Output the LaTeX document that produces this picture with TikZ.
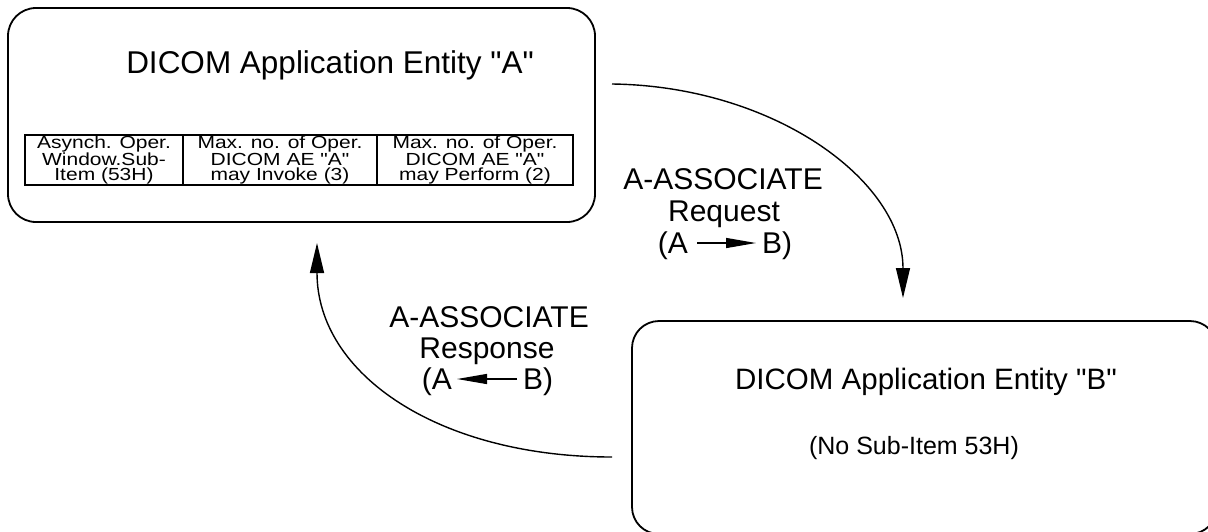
\documentclass[tikz,border=0pt]{standalone}
\usepackage{fontspec}
\newfontfamily\arial{Liberation Sans}
\newfontfamily\arialwide{Liberation Sans}[FakeStretch=1.2]
\usetikzlibrary{arrows.meta,calc}
\begin{document}
\begin{tikzpicture}[x=1pt,y=-1pt,
  entity/.style={draw, line width=1.8pt, rounded corners=28pt, inner sep=0pt},
  cell/.style={draw, line width=1.3pt, inner sep=0pt, minimum height=50pt, align=center, font=\arialwide\fontsize{17.5}{15.6}\selectfont},
  big/.style={font=\arial\fontsize{30}{32}\selectfont, inner sep=0pt, anchor=base},
  title/.style={font=\arial\fontsize{31.5}{34}\selectfont, inner sep=0pt, anchor=base},
  titleb/.style={font=\arial\fontsize{29.5}{34}\selectfont, inner sep=0pt, anchor=base},
  small/.style={font=\arial\fontsize{25}{28}\selectfont, inner sep=0pt, anchor=base},
  flow/.style={line width=1.4pt, -{Triangle[length=30pt,width=14pt]}},
  mini/.style={line width=1.3pt, -{Triangle[length=30pt,width=10pt]}}]
\useasboundingbox (0,0) rectangle (1208,531);
\clip (0,0) rectangle (1208,531);

% Entity A
\node[entity, minimum width=587pt, minimum height=214pt] (A) at (301.5,115) {};
\node[title] (Atitle) at (330,73) {DICOM Application Entity "A"};
\node[cell, minimum width=158pt] (c1) at (104,160) {Asynch. Oper.\\Window.Sub-\\Item (53H)};
\node[cell, minimum width=194pt] (c2) at (280,160) {Max. no. of Oper.\\DICOM AE "A"\\may Invoke (3)};
\node[cell, minimum width=196pt] (c3) at (475,160) {Max. no. of Oper.\\DICOM AE "A"\\may Perform (2)};

% Entity B
\node[entity, rounded corners=27pt, minimum width=585pt, minimum height=213pt] (B) at (924.5,427.5) {};
\node[titleb] (Btitle) at (926,389) {DICOM Application Entity "B"};
\node[small] (Bsub) at (914,454) {(No Sub-Item 53H)};

% Request label
\node[big] (rq1) at (723,189) {A-ASSOCIATE};
\node[big] (rq2) at (724,221) {Request};
\node[big, anchor=base east] (rqA) at (688,253) {(A};
\node[big, anchor=base west] (rqB) at (762,253) {B)};
\draw[mini] ($(rqA.base east)+(9,-10)$) -- ($(rqB.base west)+(-6,-10)$);

% Response label
\node[big] (rs1) at (489,327) {A-ASSOCIATE};
\node[big] (rs2) at (487,358) {Response};
\node[big, anchor=base east] (rsA) at (452,389) {(A};
\node[big, anchor=base west] (rsB) at (523,389) {B)};
\draw[mini] ($(rsB.base west)+(-6,-10)$) -- ($(rsA.base east)+(5,-10)$);

% Main flows
\coordinate (reqS) at (612,84);
\coordinate (reqE) at (903,298);
\draw[flow] (reqS) .. controls (773,86) and (903,180) .. (reqE);
\coordinate (rspS) at (612,457);
\coordinate (rspE) at (317,243);
\draw[flow] (rspS) .. controls (440,457) and (317,375) .. (rspE);
\end{tikzpicture}
\end{document}
